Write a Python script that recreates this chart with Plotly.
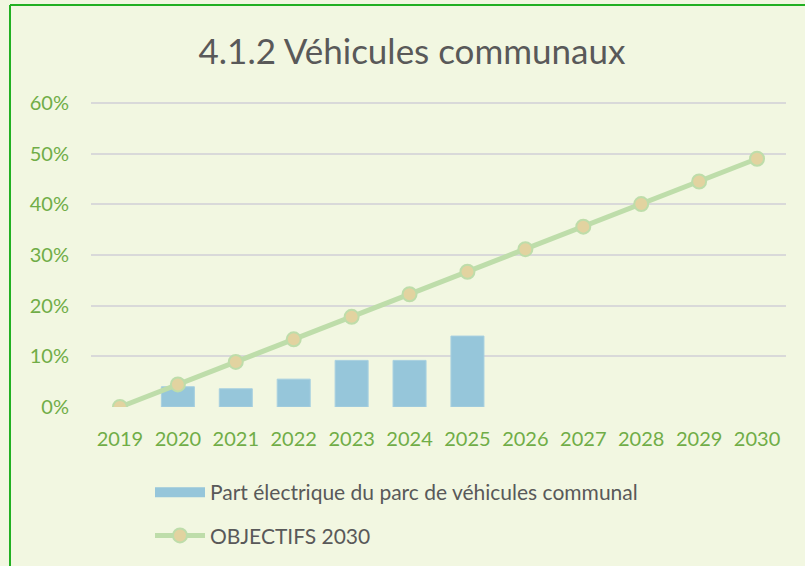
import plotly.graph_objects as go

years = ["2019", "2020", "2021", "2022", "2023", "2024", "2025", "2026", "2027", "2028", "2029", "2030"]
bar_years = ["2020", "2021", "2022", "2023", "2024", "2025"]
part_electrique = [0.040, 0.036, 0.055, 0.092, 0.092, 0.140]
objectifs = [0.0, 0.0445, 0.089, 0.1335, 0.178, 0.2225, 0.267, 0.3115, 0.356, 0.4005, 0.445, 0.49]
y_ticks = [0, 0.1, 0.2, 0.3, 0.4, 0.5, 0.6]
y_tick_labels = ["0%", "10%", "20%", "30%", "40%", "50%", "60%"]

BG = "#F2F7E1"
GREEN_TXT = "#70AD47"
GREY_TXT = "#595959"
FONT = "Lato"
BAR_COLOR = "#96C6DA"
LINE_COLOR = "#BEDDAA"

W, H = 805, 566
L, R, T, B = 91, 19, 100, 159
PW, PH = W - L - R, H - T - B
Y_TOP = 0.6 + 3 * 0.6 / 304

def px_x(px):
    return (px - L) / PW

def px_y(py):
    return (H - B - py) / PH

BAR_NAME = "Part électrique du parc de véhicules communal"

fig = go.Figure()
fig.add_trace(go.Bar(
    x=bar_years, y=part_electrique, name=BAR_NAME,
    marker=dict(color=BAR_COLOR, line=dict(color="#A8D0E0", width=1)),
    width=0.57, showlegend=False, legendgroup="a",
))
# legend entry for the bars (wide rectangle swatch)
fig.add_trace(go.Scatter(
    x=[None], y=[None], name=BAR_NAME, mode="lines",
    line=dict(color=BAR_COLOR, width=14), legendgroup="a",
))
fig.add_trace(go.Scatter(
    x=years, y=objectifs, name="OBJECTIFS 2030", mode="lines+markers",
    line=dict(color=LINE_COLOR, width=5),
    marker=dict(size=14, color="#E2D3A0", line=dict(color=LINE_COLOR, width=2)),
    legendgroup="b",
))

fig.update_layout(
    width=W, height=H,
    paper_bgcolor=BG, plot_bgcolor=BG,
    margin=dict(l=L, r=R, t=T, b=B, autoexpand=False),
    title=dict(text="4.1.2 Véhicules communaux", x=412 / W, xanchor="center",
               xref="container", y=1 - 52 / H, yanchor="middle",
               font=dict(family=FONT, size=35, color=GREY_TXT)),
    font=dict(family=FONT, color=GREY_TXT),
    xaxis=dict(type="category", categoryorder="array", categoryarray=years,
               range=[-0.5, 11.5], showgrid=False, showline=False, zeroline=False,
               ticks="", tickfont=dict(family=FONT, size=20, color=GREEN_TXT), ticklabelstandoff=18),
    yaxis=dict(range=[0, Y_TOP], tickvals=y_ticks, ticktext=y_tick_labels,
               showgrid=True, gridcolor="#D9D9D9", gridwidth=2, zeroline=False,
               showline=False, ticks="", tickfont=dict(family=FONT, size=20, color=GREEN_TXT),
               ticklabelstandoff=21),
    legend=dict(x=150 / W, y=1 - 472 / H, xref="container", yref="container",
                xanchor="left", yanchor="top", orientation="v",
                traceorder="grouped", tracegroupgap=13, itemwidth=50,
                font=dict(family=FONT, size=21, color=GREY_TXT), bgcolor="rgba(0,0,0,0)"),
    shapes=[
        dict(type="line", xref="paper", yref="paper",
             x0=px_x(10), x1=px_x(10), y0=px_y(H + 5), y1=px_y(5),
             line=dict(color="#22B022", width=2)),
        dict(type="line", xref="paper", yref="paper",
             x0=px_x(10), x1=px_x(W + 5), y0=px_y(5), y1=px_y(5),
             line=dict(color="#22B022", width=2)),
    ],
)
fig.write_html("out.html", config={"displayModeBar": False},
               post_script="document.body.style.margin='0';document.body.style.overflow='hidden';")
